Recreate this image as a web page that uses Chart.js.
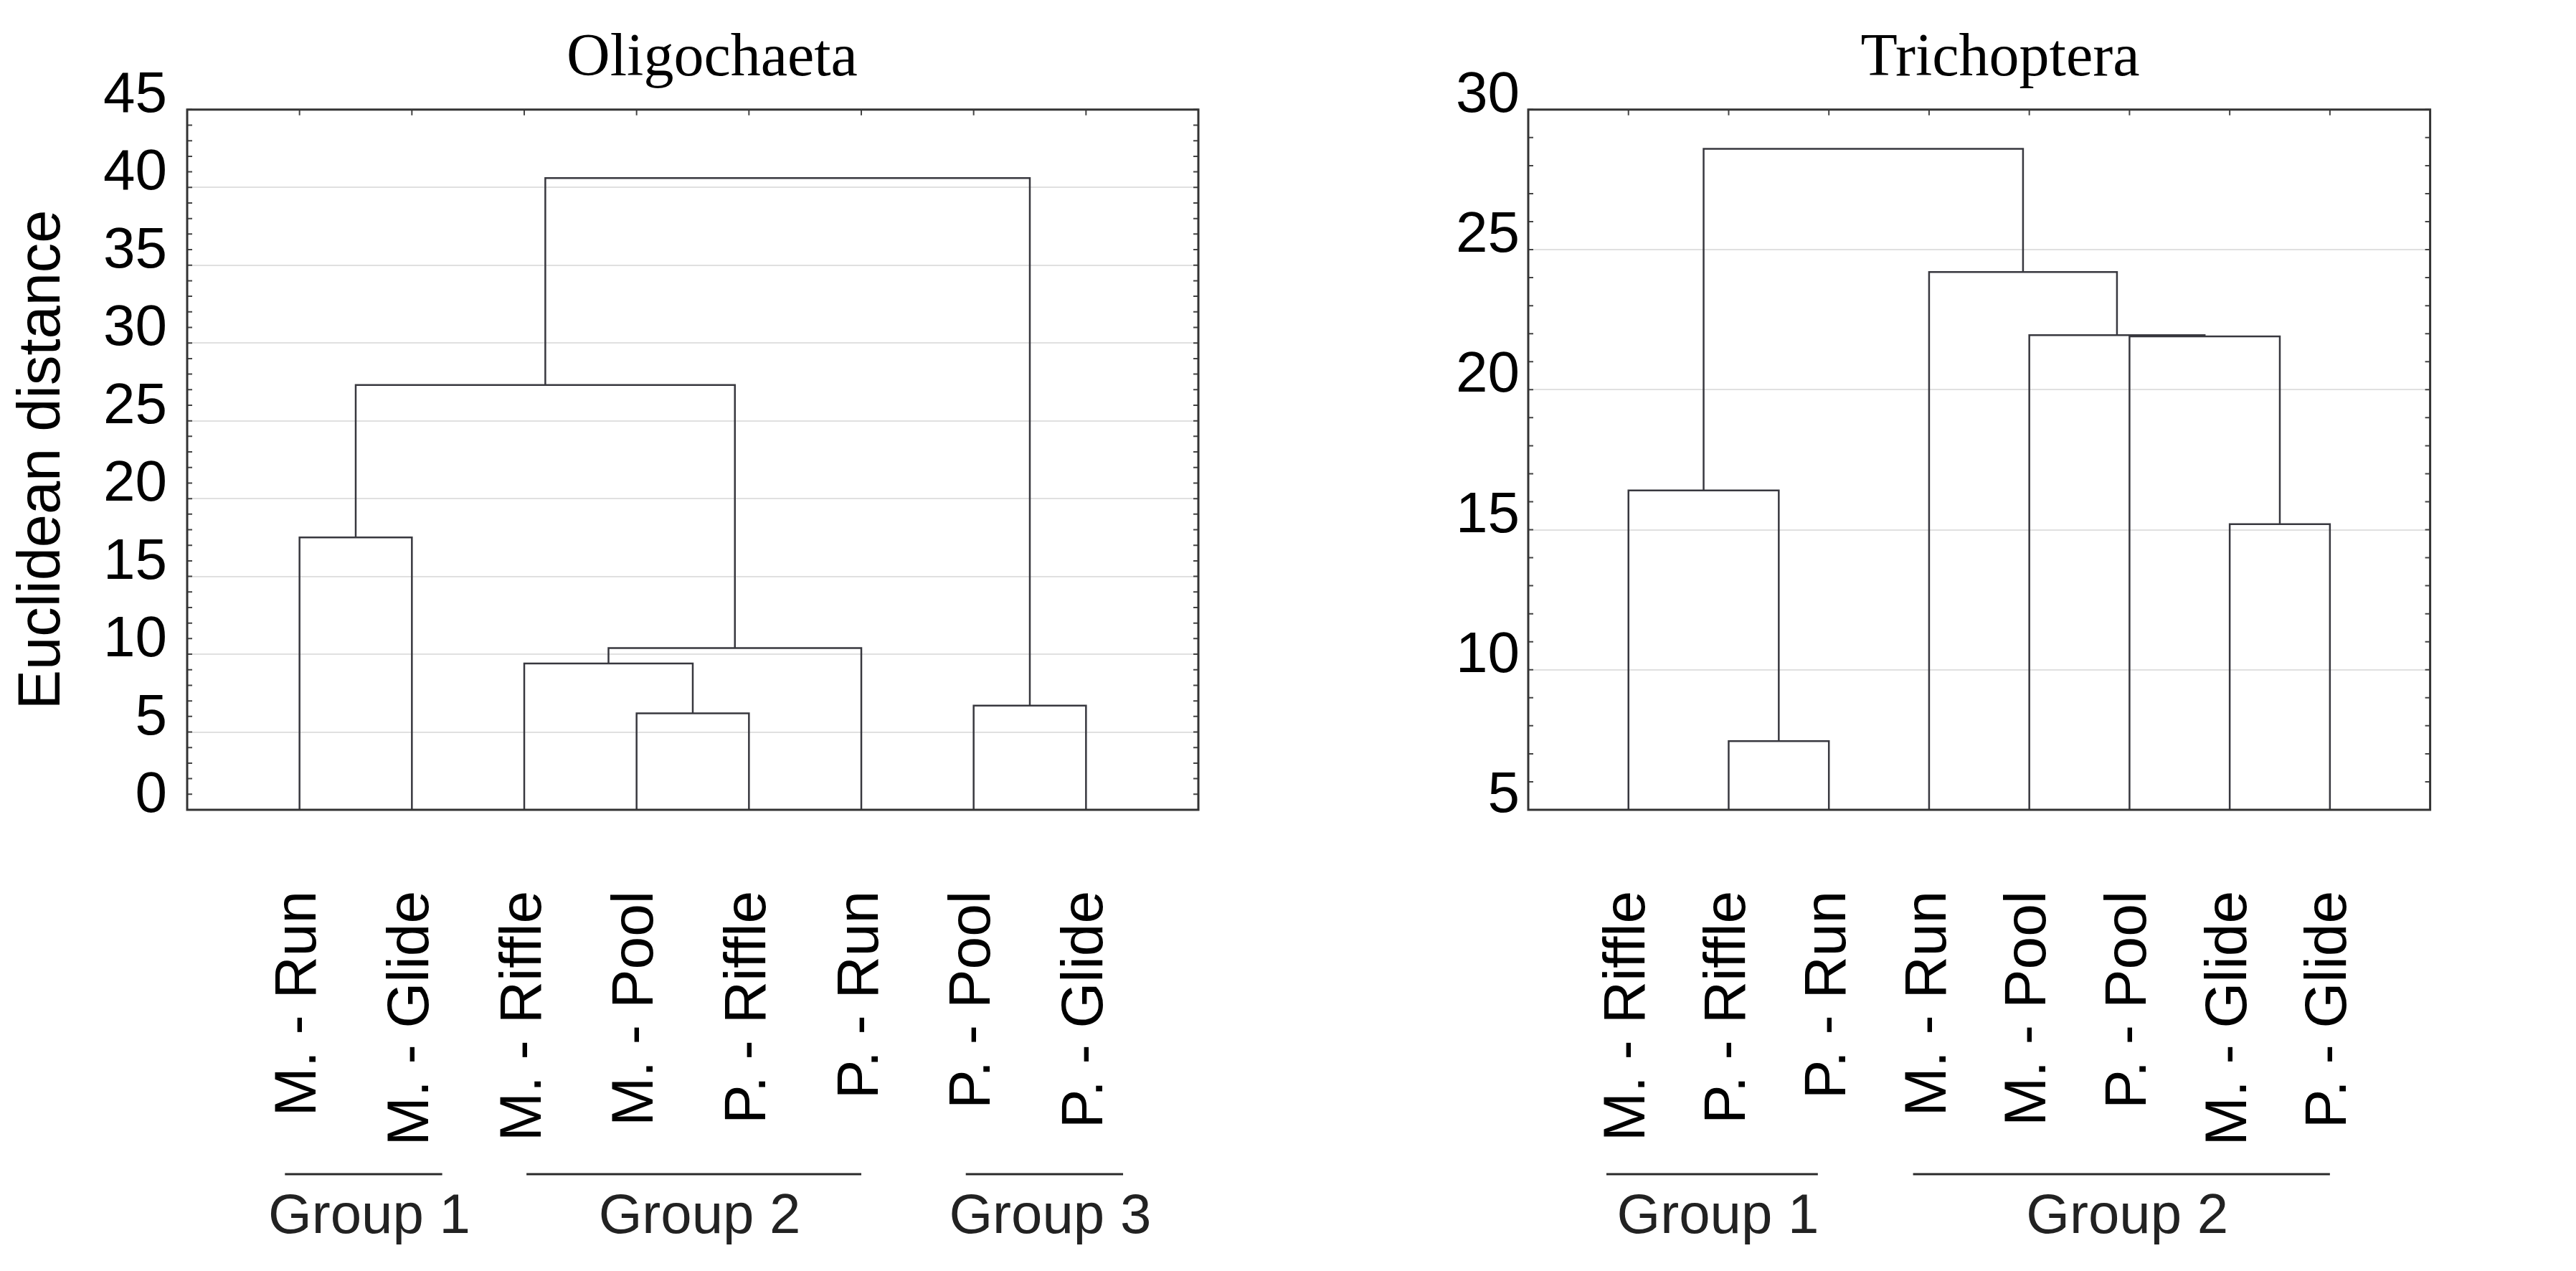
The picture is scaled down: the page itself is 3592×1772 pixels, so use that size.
<!DOCTYPE html>
<html><head><meta charset="utf-8">
<script src="https://cdn.jsdelivr.net/npm/chart.js@4.4.1/dist/chart.umd.min.js"></script>
<style>
html,body{margin:0;padding:0;background:#fff;}
#wrap{position:relative;width:3592px;height:1772px;overflow:hidden;}
canvas{position:absolute;top:0;}
#c1{left:0;} #c2{left:1986px;}
</style></head><body>
<div id="wrap"><canvas id="c1" width="1986" height="1772"></canvas><canvas id="c2" width="1606" height="1772"></canvas></div>
<script>
// ---- Oligochaeta ----
const oliTitle = 'Oligochaeta';
const oliLabels = ['M. - Run','M. - Glide','M. - Riffle','M. - Pool','P. - Riffle','P. - Run','P. - Pool','P. - Glide'];
// merges: left node, right node (0-7 leaves, 8+ clusters in merge order), linkage distance
const oliLeft   = [3, 2, 9, 6, 0, 12, 13];
const oliRight  = [4, 8, 5, 7, 1, 10, 11];
const oliHeight = [6.2, 9.4, 10.4, 6.7, 17.5, 27.3, 40.6];
const oliYRange = [0, 45];
const oliGroups = ['Group 1','Group 2','Group 3'];
const oliGroupFrom = [0.87, 3.02, 6.93];
const oliGroupTo   = [2.27, 6.0, 8.33];

// ---- Trichoptera ----
const triTitle = 'Trichoptera';
const triLabels = ['M. - Riffle','P. - Riffle','P. - Run','M. - Run','M. - Pool','P. - Pool','M. - Glide','P. - Glide'];
const triLeft   = [1, 0, 6, 5, 4, 3, 9];
const triRight  = [2, 8, 7, 10, 11, 12, 13];
const triHeight = [7.45, 16.4, 15.2, 21.9, 21.95, 24.2, 28.6];
const triYRange = [5, 30];
const triGroups = ['Group 1','Group 2'];
const triGroupFrom = [0.78, 3.84];
const triGroupTo   = [2.89, 8.0];

const yTitle = 'Euclidean distance';

function buildDendro(labels, left, right, height, yMin) {
  const xs = labels.map((_, i) => i + 1), hs = labels.map(() => yMin);
  const sets = [];
  left.forEach((a, j) => {
    const b = right[j], h = height[j];
    sets.push({
      data: [{x: xs[a], y: hs[a]}, {x: xs[a], y: h}, {x: xs[b], y: h}, {x: xs[b], y: hs[b]}],
      borderColor: '#38383f', borderWidth: 2.5, pointRadius: 0, fill: false, tension: 0,
      borderJoinStyle: 'miter', borderCapStyle: 'butt'
    });
    xs.push((xs[a] + xs[b]) / 2); hs.push(h);
  });
  return sets;
}

const decor = {
  id: 'decor',
  afterDatasetsDraw(chart, args, opts) {
    const {ctx, chartArea: a} = chart;
    const x = chart.scales.x, y = chart.scales.y;
    ctx.save();
    ctx.strokeStyle = '#444'; ctx.lineWidth = 2;
    ctx.beginPath();
    for (let v = y.min; v <= y.max + 1e-9; v += 1) {
      const py = y.getPixelForValue(v);
      ctx.moveTo(a.left, py); ctx.lineTo(a.left + 7, py);
      ctx.moveTo(a.right, py); ctx.lineTo(a.right - 7, py);
    }
    for (let i = 1; i <= opts.nLeaves; i++) {
      const px = x.getPixelForValue(i);
      ctx.moveTo(px, a.top); ctx.lineTo(px, a.top + 8);
    }
    ctx.stroke();
    ctx.lineWidth = 3; ctx.strokeStyle = '#333';
    ctx.strokeRect(a.left, a.top, a.right - a.left, a.bottom - a.top);
    ctx.font = '78px "Liberation Sans", Arial, sans-serif';
    ctx.fillStyle = '#222'; ctx.textAlign = 'center'; ctx.textBaseline = 'alphabetic';
    ctx.strokeStyle = '#2a2a2a'; ctx.lineWidth = 3;
    opts.names.forEach((n, k) => {
      const x0 = x.getPixelForValue(opts.from[k]), x1 = x.getPixelForValue(opts.to[k]);
      ctx.beginPath(); ctx.moveTo(x0, a.bottom + 508); ctx.lineTo(x1, a.bottom + 508); ctx.stroke();
      ctx.fillText(n, (x0 + x1) / 2 + 8, a.bottom + 590);
    });
    ctx.restore();
  }
};

function makeChart(id, cfg) {
  const yScale = {
    min: cfg.yRange[0], max: cfg.yRange[1],
    ticks: { stepSize: 5, font: {family: '"Liberation Sans", Arial, sans-serif', size: 80}, color: '#000', padding: cfg.tickPad, labelOffset: -19 },
    grid: { color: '#e0e0e0', lineWidth: 2, drawTicks: false },
    border: { display: false },
    afterFit(s) { s.width = cfg.yWidth; }
  };
  if (cfg.yTitle) {
    yScale.title = { display: true, text: cfg.yTitle, font: {family: '"Liberation Sans", Arial, sans-serif', size: 83}, color: '#000', padding: {top: 10, bottom: 0} };
  }
  return new Chart(document.getElementById(id), {
    type: 'line',
    data: { datasets: buildDendro(cfg.labels, cfg.left, cfg.right, cfg.height, cfg.yRange[0]) },
    options: {
      responsive: false, animation: false, devicePixelRatio: 1,
      layout: { padding: 0 },
      plugins: {
        legend: { display: false }, tooltip: { enabled: false },
        title: { display: true, text: cfg.title, font: {family: '"Liberation Serif", "Times New Roman", serif', size: 84, weight: 'normal'}, color: '#000', padding: {top: 33, bottom: 19} },
        decor: { nLeaves: cfg.labels.length, names: cfg.groups, from: cfg.gFrom, to: cfg.gTo }
      },
      scales: {
        x: {
          type: 'linear', min: 0, max: cfg.labels.length + 1,
          ticks: { stepSize: 1, autoSkip: false, minRotation: 90, maxRotation: 90, padding: 105,
                   font: {family: '"Liberation Sans", Arial, sans-serif', size: 82}, color: '#000',
                   callback: v => cfg.labels[v - 1] ?? '' },
          grid: { display: false }, border: { display: false },
          afterFit(s) { s.height = 1772 - 1129; }
        },
        y: yScale,
        y2: { position: 'right', display: true, grid: {display: false}, border: {display: false}, ticks: {display: false},
              afterFit(s) { s.width = cfg.rightPad; } }
      }
    },
    plugins: [decor]
  });
}

makeChart('c1', { title: oliTitle, labels: oliLabels, left: oliLeft, right: oliRight, height: oliHeight, yRange: oliYRange,
  groups: oliGroups, gFrom: oliGroupFrom, gTo: oliGroupTo, yTitle: yTitle, yWidth: 261, tickPad: 28, rightPad: 315 });
makeChart('c2', { title: triTitle, labels: triLabels, left: triLeft, right: triRight, height: triHeight, yRange: triYRange,
  groups: triGroups, gFrom: triGroupFrom, gTo: triGroupTo, yTitle: null, yWidth: 145, tickPad: 12, rightPad: 52 });
</script>
</body></html>
